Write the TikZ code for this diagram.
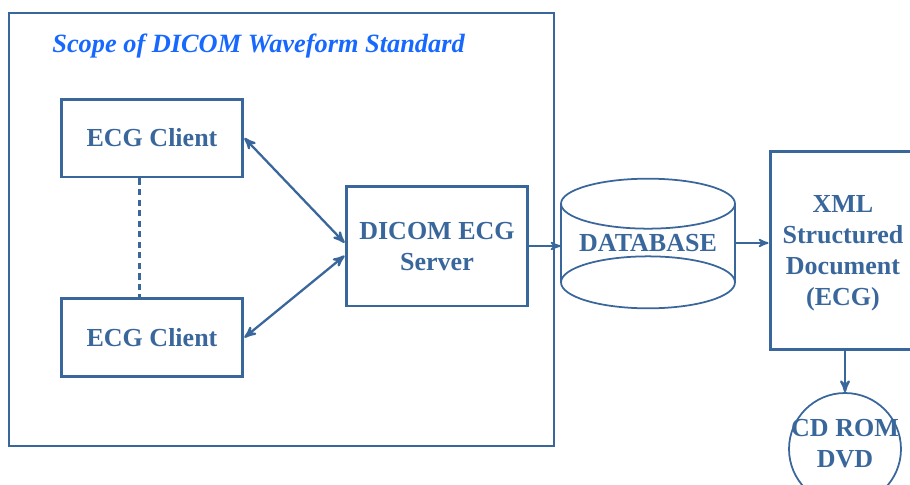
\documentclass[tikz,border=0pt]{standalone}
\usepackage{fontspec}
\setmainfont{Liberation Serif}
\usetikzlibrary{arrows}
\definecolor{boxblue}{RGB}{58,103,155}
\definecolor{scopeblue}{RGB}{22,104,255}

\begin{document}
\begin{tikzpicture}[x=0.02cm,y=-0.02cm,>=stealth',
  big font/.style={font=\bfseries\fontsize{14.8}{17.6}\selectfont},
  box/.style={rectangle,draw=boxblue,line width=1.7pt,text=boxblue,big font,align=center,inner sep=0pt},
  link/.style={draw=boxblue,line width=1.3pt},
  thin link/.style={draw=boxblue,line width=1pt}]
  \path[use as bounding box,clip] (0,0) rectangle (910,484);

  % scope frame and its title
  \node[draw=boxblue,line width=0.8pt,minimum width=10.9cm,minimum height=8.66cm] (scope) at (281.5,229.5) {};
  \node[anchor=base west,inner sep=0pt,text=scopeblue,font=\bfseries\itshape\fontsize{15}{18}\selectfont] (title) at (52,52) {Scope of DICOM Waveform Standard};

  \node[box,minimum width=3.64cm,minimum height=1.56cm] (c1) at (152,138) {ECG Client};
  \node[box,minimum width=3.64cm,minimum height=1.56cm] (c2) at (152,337.5) {ECG Client};
  \node[box,minimum width=3.64cm,minimum height=2.4cm,text depth=-3.4pt] (srv) at (437,246) {DICOM ECG\\Server};

  % database drum
  \node[minimum width=3.48cm,minimum height=1.56cm,inner sep=0pt,text=boxblue,big font] (db) at (648,243) {DATABASE};
  \draw[thin link] (db.north west) -- (db.south west) (db.north east) -- (db.south east);
  \draw[thin link] (db.north) ellipse[x radius=1.74cm,y radius=0.5cm];
  \draw[thin link] (db.south) ellipse[x radius=1.74cm,y radius=0.52cm];

  \node[box,minimum width=2.92cm,minimum height=3.98cm,text depth=-2.4pt] (xml) at (843,250.5) {XML\\Structured\\Document\\(ECG)};
  \node[circle,thin link,minimum size=2.24cm,inner sep=0pt] (cd) at (845,449) {};
  \node[text=boxblue,big font,align=center,inner sep=0pt] (cdtext) at (845,444) {CD ROM\\DVD};

  \draw[link,<->] (c1.east) -- (srv.178);
  \draw[link,<->] (c2.east) -- (srv.186);
  \draw[link,dash pattern=on 3.5pt off 2.5pt] (c1.253) -- (c2.107);
  \draw[thin link,->] (srv.east) -- (srv.east -| db.west);
  \draw[thin link,->] (db.east) -- (db.east -| xml.west);
  \draw[link,->] (xml.south -| cd.north) -- (cd.north);
\end{tikzpicture}
\end{document}
